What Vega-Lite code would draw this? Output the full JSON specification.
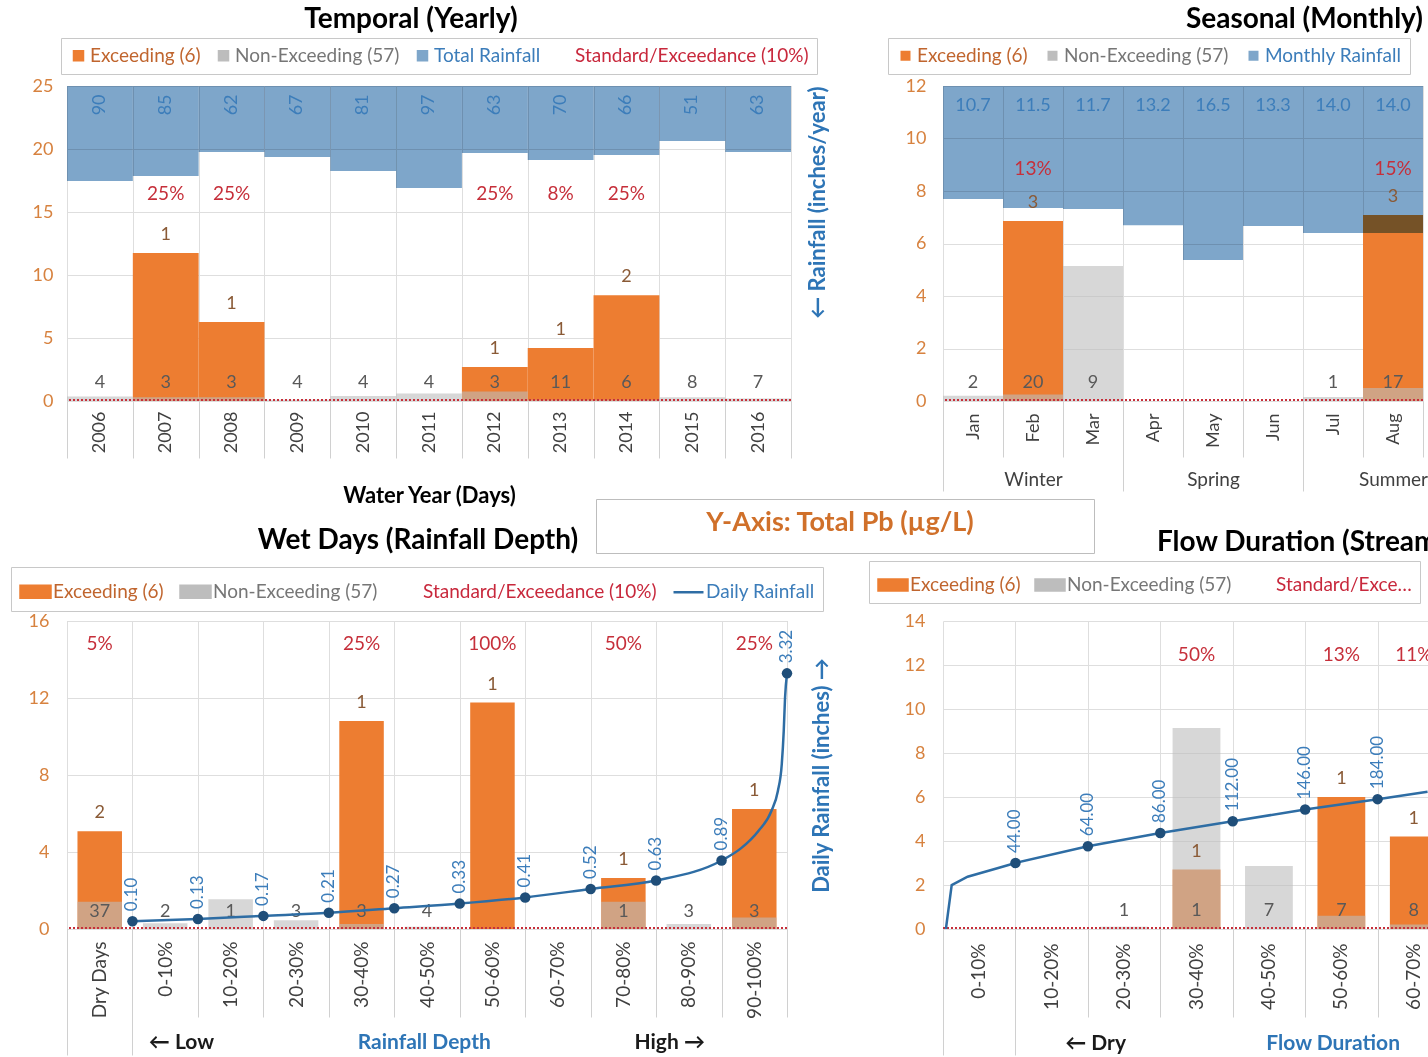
{
  "$schema": "https://vega.github.io/schema/vega-lite/v6.json",
  "padding": {"left": 10, "top": 5, "right": 0, "bottom": 0},
  "background": "white",
  "config": {
    "font": "Lato",
    "view": {"stroke": "#c8c8c8"},
    "axis": {"labelFont": "Lato", "titleFont": "Lato", "gridColor": "#dedede", "labelFontSize": 18},
    "legend": {"labelFont": "Lato", "titleFont": "Lato", "labelFontSize": 19, "labelLimit": 320},
    "title": {"font": "Lato", "fontSize": 28, "fontWeight": "bold", "color": "#000000", "frame": "group"},
    "text": {"font": "Lato"}
  },
  "bounds": "flush",
  "columns": 2,
  "spacing": {"row": 220, "column": 152},
  "resolve": {"scale": {"color": "independent", "fill": "independent", "x": "independent", "y": "independent"}},
  "concat": [
    {
      "width": 724,
      "height": 315,
      "title": {"text": "Temporal (Yearly)", "anchor": "middle", "dx": -18, "offset": 4},
      "resolve": {"scale": {"y": "independent"}},
      "layer": [
        {
          "data": {"values": [
            {"yr": "2006", "non": 0.35, "rb": 17.46, "days": 90, "nn": 4},
            {"yr": "2007", "exc": 11.75, "non": 0.3, "rb": 17.86, "days": 85, "nn": 3, "ne": 1, "pct": "25%"},
            {"yr": "2008", "exc": 6.27, "non": 0.3, "rb": 19.76, "days": 62, "nn": 3, "ne": 1, "pct": "25%"},
            {"yr": "2009", "non": 0.1, "rb": 19.37, "days": 67, "nn": 4},
            {"yr": "2010", "non": 0.4, "rb": 18.25, "days": 81, "nn": 4},
            {"yr": "2011", "non": 0.6, "rb": 16.9, "days": 97, "nn": 4},
            {"yr": "2012", "exc": 2.7, "non": 0.75, "rb": 19.68, "days": 63, "nn": 3, "ne": 1, "pct": "25%"},
            {"yr": "2013", "exc": 4.2, "non": 0.1, "rb": 19.13, "days": 70, "nn": 11, "ne": 1, "pct": "8%"},
            {"yr": "2014", "exc": 8.4, "non": 0.1, "rb": 19.52, "days": 66, "nn": 6, "ne": 2, "pct": "25%"},
            {"yr": "2015", "non": 0.3, "rb": 20.63, "days": 51, "nn": 8},
            {"yr": "2016", "non": 0.2, "rb": 19.76, "days": 63, "nn": 7}
          ]},
          "layer": [
            {
              "mark": {"type": "bar"},
              "encoding": {
                "x": {"field": "yr", "type": "nominal", "sort": null,
                  "scale": {"domain": ["2006","2007","2008","2009","2010","2011","2012","2013","2014","2015","2016"], "paddingInner": 0, "paddingOuter": 0},
                  "axis": {"title": "Water Year (Days)", "titleFontSize": 22, "titleFontWeight": "bold", "titleColor": "#000000", "titlePadding": 27,
                    "labelAngle": 270, "labelFontSize": 18, "labelColor": "#404040", "labelPadding": -47,
                    "tickBand": "extent", "tickSize": 57, "tickColor": "#d0d0d0", "grid": true, "gridColor": "#dedede", "domain": false}},
                "y": {"field": "exc", "type": "quantitative", "scale": {"domain": [0, 25], "nice": false},
                  "axis": {"title": null, "values": [0, 5, 10, 15, 20, 25], "labelColor": "#D7823F", "labelFontSize": 18, "labelPadding": 14, "ticks": false, "domain": false, "grid": true, "gridColor": "#dedede"}},
                "color": {"datum": "Exceeding (6)",
                  "scale": {"domain": ["Exceeding (6)", "Non-Exceeding (57)", "Total Rainfall", "Standard/Exceedance (10%)"], "range": ["#ED7D31", "#BDBDBD", "#7EA6CA", "#C62F3A"]},
                  "legend": {"orient": "none", "legendX": -6, "legendY": -48, "direction": "horizontal", "title": null,
                    "symbolType": "square", "symbolSize": 100, "labelFontSize": 19, "columnPadding": 13, "labelOffset": 2,
                    "padding": 8, "strokeColor": "#c8c8c8", "fillColor": "white",
                    "encode": {
                      "symbols": {"update": {
                        "size": {"signal": "datum.value === 'Standard/Exceedance (10%)' ? 0 : 100"}}},
                      "labels": {"update": {
                        "fill": {"signal": "datum.value === 'Exceeding (6)' ? '#C0652E' : datum.value === 'Non-Exceeding (57)' ? '#767676' : datum.value === 'Total Rainfall' ? '#3C7DBA' : '#C8283C'"}}}
                    }}}
              }
            },
            {
              "mark": {"type": "bar", "opacity": 0.6},
              "encoding": {
                "x": {"field": "yr", "type": "nominal", "sort": null},
                "y": {"field": "non", "type": "quantitative"},
                "color": {"datum": "Non-Exceeding (57)"}
              }
            },
            {
              "mark": {"type": "rule", "strokeDash": [2, 2], "strokeWidth": 1.5},
              "encoding": {"y": {"datum": 0.05}, "color": {"datum": "Standard/Exceedance (10%)"}}
            },
            {
              "mark": {"type": "bar", "blend": "multiply"},
              "encoding": {
                "x": {"field": "yr", "type": "nominal", "sort": null},
                "y": {"field": "rb", "type": "quantitative"},
                "y2": {"datum": 25},
                "color": {"datum": "Total Rainfall"}
              }
            },
            {
              "mark": {"type": "text", "angle": 270, "fontSize": 18, "color": "#3C7DBA", "baseline": "middle", "align": "center"},
              "encoding": {
                "x": {"field": "yr", "type": "nominal", "sort": null},
                "y": {"datum": 23.5},
                "text": {"field": "days"}
              }
            },
            {
              "transform": [{"filter": "datum.pct != null"}],
              "mark": {"type": "text", "fontSize": 19, "color": "#C62F3A", "baseline": "middle"},
              "encoding": {
                "x": {"field": "yr", "type": "nominal", "sort": null},
                "y": {"datum": 16.4},
                "text": {"field": "pct"}
              }
            },
            {
              "transform": [{"filter": "datum.ne != null"}],
              "mark": {"type": "text", "fontSize": 18, "color": "#8A5A36", "baseline": "middle", "dy": -18},
              "encoding": {
                "x": {"field": "yr", "type": "nominal", "sort": null},
                "y": {"field": "exc", "type": "quantitative"},
                "text": {"field": "ne"}
              }
            },
            {
              "transform": [{"filter": "datum.nn != null"}],
              "mark": {"type": "text", "fontSize": 18, "color": "#595959", "baseline": "middle"},
              "encoding": {
                "x": {"field": "yr", "type": "nominal", "sort": null},
                "y": {"datum": 1.43},
                "text": {"field": "nn"}
              }
            }
          ]
        },
        {
          "data": {"values": [{}]},
          "mark": {"type": "rule", "opacity": 0},
          "encoding": {
            "y": {"datum": 0, "type": "quantitative", "scale": {"domain": [0, 25], "nice": false},
              "axis": {"orient": "right", "title": "← Rainfall (inches/year)", "titleAngle": 270, "titleFontSize": 22, "titleFontWeight": "bold", "titleColor": "#2E75B6", "titleAnchor": "end", "titlePadding": 38, "labels": false, "ticks": false, "domain": false, "grid": false}}
          }
        },
        {
          "data": {"values": [{"v": 1}]},
          "mark": {"type": "point", "opacity": 0, "filled": true},
          "encoding": {
            "fill": {"field": "v", "type": "quantitative", "scale": {"domain": [0, 1], "range": ["#ffffff", "#ffffff"]},
              "legend": {"type": "gradient", "orient": "none", "legendX": 529, "legendY": 413, "direction": "horizontal",
                "gradientLength": 476, "gradientThickness": 1, "gradientOpacity": 0, "gradientStrokeWidth": 0,
                "labelOpacity": 0, "labelFontSize": 1, "labelOffset": 0,
                "title": "Y-Axis: Total Pb (µg/L)", "titleFontSize": 27, "titleFontWeight": "bold", "titleColor": "#D0702A",
                "titleAnchor": "middle", "titlePadding": 3, "titleLimit": 600,
                "padding": 11, "strokeColor": "#bdbdbd", "fillColor": "white"}}
          }
        }
      ]
    },
    {
      "width": 480,
      "height": 315,
      "title": {"text": "Seasonal (Monthly)", "anchor": "end", "offset": 4},
      "resolve": {"scale": {"x": "independent"}},
      "layer": [
        {
          "data": {"values": [
            {"mo": "Jan", "non": 0.2, "rb": 7.7, "lbl": 10.7, "nn": 2},
            {"mo": "Feb", "exc": 6.86, "non": 0.25, "rb": 7.35, "lbl": 11.5, "nn": 20, "ne": 3, "pct": "13%"},
            {"mo": "Mar", "non": 5.14, "rb": 7.31, "lbl": 11.7, "nn": 9},
            {"mo": "Apr", "rb": 6.7, "lbl": 13.2},
            {"mo": "May", "rb": 5.37, "lbl": 16.5},
            {"mo": "Jun", "rb": 6.67, "lbl": 13.3},
            {"mo": "Jul", "non": 0.15, "rb": 6.4, "lbl": 14.0, "nn": 1},
            {"mo": "Aug", "exc": 7.09, "non": 0.5, "rb": 6.4, "lbl": 14.0, "nn": 17, "ne": 3, "pct": "15%"}
          ]},
          "layer": [
            {
              "mark": {"type": "bar"},
              "encoding": {
                "x": {"field": "mo", "type": "nominal", "sort": null,
                  "scale": {"domain": ["Jan","Feb","Mar","Apr","May","Jun","Jul","Aug"], "paddingInner": 0, "paddingOuter": 0},
                  "axis": {"title": null, "labelAngle": 270, "labelFontSize": 18, "labelColor": "#404040", "labelPadding": -44,
                    "tickBand": "extent", "tickSize": 56, "tickColor": "#d0d0d0", "grid": true, "gridColor": "#dedede", "domain": false}},
                "y": {"field": "exc", "type": "quantitative", "scale": {"domain": [0, 12], "nice": false},
                  "axis": {"title": null, "values": [0, 2, 4, 6, 8, 10, 12], "labelColor": "#D7823F", "labelFontSize": 18, "labelPadding": 17, "ticks": false, "domain": false, "grid": true, "gridColor": "#dedede"}},
                "color": {"datum": "Exceeding (6)",
                  "scale": {"domain": ["Exceeding (6)", "Non-Exceeding (57)", "Monthly Rainfall"], "range": ["#ED7D31", "#BDBDBD", "#7EA6CA"]},
                  "legend": {"orient": "none", "legendX": -55, "legendY": -48, "direction": "horizontal", "title": null,
                    "symbolType": "square", "symbolSize": 100, "labelFontSize": 19, "columnPadding": 15, "labelOffset": 2,
                    "padding": 8, "strokeColor": "#c8c8c8", "fillColor": "white",
                    "encode": {
                      "labels": {"update": {
                        "fill": {"signal": "datum.value === 'Exceeding (6)' ? '#C0652E' : datum.value === 'Non-Exceeding (57)' ? '#767676' : '#3C7DBA'"}}}
                    }}}
              }
            },
            {
              "mark": {"type": "bar", "opacity": 0.6},
              "encoding": {
                "x": {"field": "mo", "type": "nominal", "sort": null},
                "y": {"field": "non", "type": "quantitative"},
                "color": {"datum": "Non-Exceeding (57)"}
              }
            },
            {
              "mark": {"type": "rule", "strokeDash": [2, 2], "strokeWidth": 1.5, "color": "#C62F3A"},
              "encoding": {"y": {"datum": 0.03}}
            },
            {
              "mark": {"type": "bar", "blend": "multiply"},
              "encoding": {
                "x": {"field": "mo", "type": "nominal", "sort": null},
                "y": {"field": "rb", "type": "quantitative"},
                "y2": {"datum": 12},
                "color": {"datum": "Monthly Rainfall"}
              }
            },
            {
              "mark": {"type": "text", "fontSize": 18, "color": "#3C7DBA", "baseline": "middle"},
              "encoding": {
                "x": {"field": "mo", "type": "nominal", "sort": null},
                "y": {"datum": 11.24},
                "text": {"field": "lbl", "format": ".1f"}
              }
            },
            {
              "transform": [{"filter": "datum.pct != null"}],
              "mark": {"type": "text", "fontSize": 19, "color": "#C62F3A", "baseline": "middle"},
              "encoding": {
                "x": {"field": "mo", "type": "nominal", "sort": null},
                "y": {"datum": 8.84},
                "text": {"field": "pct"}
              }
            },
            {
              "transform": [{"filter": "datum.ne != null"}],
              "mark": {"type": "text", "fontSize": 18, "color": "#8A5A36", "baseline": "middle", "dy": -18},
              "encoding": {
                "x": {"field": "mo", "type": "nominal", "sort": null},
                "y": {"field": "exc", "type": "quantitative"},
                "text": {"field": "ne"}
              }
            },
            {
              "transform": [{"filter": "datum.nn != null"}],
              "mark": {"type": "text", "fontSize": 18, "color": "#595959", "baseline": "middle"},
              "encoding": {
                "x": {"field": "mo", "type": "nominal", "sort": null},
                "y": {"datum": 0.69},
                "text": {"field": "nn"}
              }
            }
          ]
        },
        {
          "data": {"values": [{}]},
          "mark": {"type": "rule", "opacity": 0},
          "encoding": {
            "x": {"datum": 0, "type": "quantitative", "scale": {"domain": [0, 8], "nice": false, "zero": false},
              "axis": {"orient": "bottom", "values": [0, 1.5, 3, 4.5, 6, 7.5],
                "labelExpr": "datum.value == 1.5 ? 'Winter' : datum.value == 4.5 ? 'Spring' : datum.value == 7.5 ? 'Summer' : ''",
                "tickOpacity": {"condition": {"test": "datum.value % 3 == 0", "value": 1}, "value": 0},
                "tickSize": 90, "tickColor": "#d0d0d0", "labelPadding": -21, "labelAngle": 0, "labelFontSize": 19, "labelColor": "#404040",
                "labelFlush": false, "labelOverlap": false, "domain": false, "grid": false, "title": null}}
          }
        }
      ]
    },
    {
      "width": 720,
      "height": 308,
      "title": {"text": "Wet Days (Rainfall Depth)", "anchor": "middle", "dx": -9, "offset": 12},
      "resolve": {"scale": {"x": "independent", "y": "independent"}},
      "layer": [
        {
          "data": {"values": [
            {"cat": "Dry Days", "exc": 5.08, "non": 1.42, "ne": 2, "nn": 37, "pct": "5%"},
            {"cat": "0-10%", "non": 0.3, "nn": 2},
            {"cat": "10-20%", "non": 1.54, "nn": 1},
            {"cat": "20-30%", "non": 0.46, "nn": 3},
            {"cat": "30-40%", "exc": 10.8, "non": 0.26, "ne": 1, "nn": 3, "pct": "25%"},
            {"cat": "40-50%", "non": 0.12, "nn": 4},
            {"cat": "50-60%", "exc": 11.76, "ne": 1, "pct": "100%"},
            {"cat": "60-70%"},
            {"cat": "70-80%", "exc": 2.65, "non": 1.42, "ne": 1, "nn": 1, "pct": "50%"},
            {"cat": "80-90%", "non": 0.26, "nn": 3},
            {"cat": "90-100%", "exc": 6.24, "non": 0.6, "ne": 1, "nn": 3, "pct": "25%"}
          ]},
          "layer": [
            {
              "mark": {"type": "bar", "width": {"band": 0.68}},
              "encoding": {
                "x": {"field": "cat", "type": "nominal", "sort": null,
                  "scale": {"domain": ["Dry Days","0-10%","10-20%","20-30%","30-40%","40-50%","50-60%","60-70%","70-80%","80-90%","90-100%"], "paddingInner": 0, "paddingOuter": 0},
                  "axis": {"title": null, "labelAngle": 270, "labelFontSize": 19, "labelColor": "#404040", "labelPadding": -76,
                    "tickBand": "extent", "tickSize": 88, "tickColor": "#d0d0d0", "grid": true, "gridColor": "#dedede", "domain": false}},
                "y": {"field": "exc", "type": "quantitative", "scale": {"domain": [0, 16], "nice": false},
                  "axis": {"title": null, "values": [0, 2, 4, 6, 8, 10, 12, 14, 16], "labelColor": "#D7823F", "labelFontSize": 18, "labelPadding": 18, "ticks": false, "domain": false, "grid": true, "gridColor": "#dedede"}},
                "color": {"datum": "Exceeding (6)",
                  "scale": {"domain": ["Exceeding (6)", "Non-Exceeding (57)", "Standard/Exceedance (10%)", "Daily Rainfall"], "range": ["#ED7D31", "#BDBDBD", "#C62F3A", "#2E6DA4"]},
                  "legend": {"orient": "none", "legendX": -56, "legendY": -54, "direction": "horizontal", "title": null,
                    "symbolType": "M-1,-0.4H1V0.4H-1Z", "symbolSize": 900, "labelFontSize": 19, "columnPadding": 11, "labelOffset": 1,
                    "padding": 8, "strokeColor": "#c8c8c8", "fillColor": "white",
                    "encode": {
                      "symbols": {"update": {
                        "stroke": {"signal": "datum.value === 'Daily Rainfall' ? '#2E6DA4' : 'transparent'"},
                        "strokeWidth": {"value": 2.5},
                        "shape": {"signal": "datum.value === 'Daily Rainfall' ? 'stroke' : 'M-1,-0.4H1V0.4H-1Z'"},
                        "size": {"signal": "datum.value === 'Standard/Exceedance (10%)' ? 0 : 900"}}},
                      "labels": {"update": {
                        "fill": {"signal": "datum.value === 'Exceeding (6)' ? '#C0652E' : datum.value === 'Non-Exceeding (57)' ? '#767676' : datum.value === 'Daily Rainfall' ? '#3C7DBA' : '#C8283C'"}}}
                    }}}
              }
            },
            {
              "mark": {"type": "bar", "width": {"band": 0.68}, "opacity": 0.6},
              "encoding": {
                "x": {"field": "cat", "type": "nominal", "sort": null},
                "y": {"field": "non", "type": "quantitative"},
                "color": {"datum": "Non-Exceeding (57)"}
              }
            },
            {
              "mark": {"type": "rule", "strokeDash": [2, 2], "strokeWidth": 1.5},
              "encoding": {"y": {"datum": 0.04}, "color": {"datum": "Standard/Exceedance (10%)"}}
            },
            {
              "transform": [{"filter": "datum.pct != null"}],
              "mark": {"type": "text", "fontSize": 19, "color": "#C62F3A", "baseline": "middle"},
              "encoding": {
                "x": {"field": "cat", "type": "nominal", "sort": null},
                "y": {"datum": 14.8},
                "text": {"field": "pct"}
              }
            },
            {
              "transform": [{"filter": "datum.ne != null"}],
              "mark": {"type": "text", "fontSize": 18, "color": "#8A5A36", "baseline": "middle", "dy": -18},
              "encoding": {
                "x": {"field": "cat", "type": "nominal", "sort": null},
                "y": {"field": "exc", "type": "quantitative"},
                "text": {"field": "ne"}
              }
            },
            {
              "transform": [{"filter": "datum.nn != null"}],
              "mark": {"type": "text", "fontSize": 18, "color": "#595959", "baseline": "middle"},
              "encoding": {
                "x": {"field": "cat", "type": "nominal", "sort": null},
                "y": {"datum": 0.88},
                "text": {"field": "nn"}
              }
            }
          ]
        },
        {
          "data": {"values": [
            {"p": 0, "v": 0.10, "pt": 1}, {"p": 10, "v": 0.13, "pt": 1}, {"p": 20, "v": 0.17, "pt": 1},
            {"p": 30, "v": 0.21, "pt": 1}, {"p": 40, "v": 0.27, "pt": 1}, {"p": 50, "v": 0.33, "pt": 1},
            {"p": 60, "v": 0.41, "pt": 1}, {"p": 70, "v": 0.52, "pt": 1}, {"p": 80, "v": 0.63, "pt": 1},
            {"p": 90, "v": 0.89, "pt": 1}, {"p": 93, "v": 1.05, "pt": 0}, {"p": 95.6, "v": 1.27, "pt": 0},
            {"p": 97.6, "v": 1.53, "pt": 0}, {"p": 98.6, "v": 1.79, "pt": 0}, {"p": 99.2, "v": 2.14, "pt": 0},
            {"p": 99.5, "v": 2.57, "pt": 0}, {"p": 99.7, "v": 3.0, "pt": 0}, {"p": 100, "v": 3.32, "pt": 1}
          ]},
          "layer": [
            {
              "mark": {"type": "line", "interpolate": "monotone", "strokeWidth": 2.5},
              "encoding": {
                "x": {"field": "p", "type": "quantitative", "scale": {"domain": [-10, 100], "nice": false, "zero": false},
                  "axis": {"orient": "bottom", "values": [-10, 0, 7.4, 44.5, 82],
                    "labelExpr": "datum.value == 7.4 ? '← Low' : datum.value == 44.5 ? 'Rainfall Depth' : datum.value == 82 ? 'High →' : ''",
                    "tickOpacity": {"condition": {"test": "datum.value <= 0", "value": 1}, "value": 0},
                    "tickSize": 126, "tickColor": "#d0d0d0", "labelPadding": -24, "labelAngle": 0, "labelFontSize": 21, "labelFontWeight": "bold",
                    "labelColor": {"condition": {"test": "datum.value == 44.5", "value": "#2E75B6"}, "value": "#1a1a1a"},
                    "labelFlush": false, "labelOverlap": false, "domain": false, "grid": false, "title": null}},
                "y": {"field": "v", "type": "quantitative", "scale": {"domain": [0, 4], "nice": false},
                  "axis": {"orient": "right", "title": "Daily Rainfall (inches) →", "titleAngle": 270, "titleFontSize": 22, "titleFontWeight": "bold", "titleColor": "#2E75B6", "titlePadding": 46, "labels": false, "ticks": false, "domain": false, "grid": false}},
                "color": {"datum": "Daily Rainfall"}
              }
            },
            {
              "transform": [{"filter": "datum.pt == 1"}],
              "mark": {"type": "circle", "size": 110, "color": "#1F4E79", "opacity": 1},
              "encoding": {
                "x": {"field": "p", "type": "quantitative"},
                "y": {"field": "v", "type": "quantitative"}
              }
            },
            {
              "transform": [{"filter": "datum.pt == 1"}],
              "mark": {"type": "text", "angle": 270, "align": "left", "baseline": "middle", "dx": 10, "fontSize": 17, "color": "#3C7DBA"},
              "encoding": {
                "x": {"field": "p", "type": "quantitative"},
                "y": {"field": "v", "type": "quantitative"},
                "text": {"field": "v", "format": ".2f"}
              }
            }
          ]
        }
      ]
    },
    {
      "width": 486,
      "height": 308,
      "view": {"stroke": null},
      "title": {"text": "Flow Duration (Stream", "anchor": "start", "dx": 214, "offset": 4},
      "resolve": {"scale": {"x": "independent", "y": "independent"}},
      "layer": [
        {
          "data": {"values": [
            {"cat": "0-10%"},
            {"cat": "10-20%"},
            {"cat": "20-30%", "non": 0.1, "nn": 1},
            {"cat": "30-40%", "exc": 2.7, "non": 9.14, "ne": 1, "nn": 1, "pct": "50%"},
            {"cat": "40-50%", "non": 2.86, "nn": 7},
            {"cat": "50-60%", "exc": 6.0, "non": 0.6, "ne": 1, "nn": 7, "pct": "13%"},
            {"cat": "60-70%", "exc": 4.2, "non": 0.2, "ne": 1, "nn": 8, "pct": "11%"}
          ]},
          "layer": [
            {
              "mark": {"type": "bar", "width": {"band": 0.66}, "clip": true},
              "encoding": {
                "x": {"field": "cat", "type": "nominal", "sort": null,
                  "scale": {"domain": ["0-10%","10-20%","20-30%","30-40%","40-50%","50-60%","60-70%"], "range": [0, 507], "paddingInner": 0, "paddingOuter": 0},
                  "axis": {"title": null, "labelAngle": 270, "labelFontSize": 19, "labelColor": "#404040", "labelPadding": 14, "ticks": false, "grid": false, "domain": false}},
                "y": {"field": "exc", "type": "quantitative", "scale": {"domain": [0, 14], "nice": false},
                  "axis": {"title": null, "values": [0, 2, 4, 6, 8, 10, 12, 14], "labelColor": "#D7823F", "labelFontSize": 18, "labelPadding": 18, "ticks": false, "domain": false, "grid": true, "gridColor": "#dedede"}},
                "color": {"datum": "Exceeding (6)",
                  "scale": {"domain": ["Exceeding (6)", "Non-Exceeding (57)", "Standard/Exceedance (10%)"], "range": ["#ED7D31", "#BDBDBD", "#C62F3A"]},
                  "legend": {"orient": "none", "legendX": -74, "legendY": -60, "direction": "horizontal", "title": null,
                    "symbolType": "M-1,-0.4H1V0.4H-1Z", "symbolSize": 900, "labelFontSize": 19, "columnPadding": 11, "labelOffset": 1,
                    "padding": 8, "strokeColor": "#c8c8c8", "fillColor": "white",
                    "encode": {
                      "symbols": {"update": {
                        "size": {"signal": "datum.value === 'Standard/Exceedance (10%)' ? 0 : 900"}}},
                      "labels": {"update": {
                        "fill": {"signal": "datum.value === 'Exceeding (6)' ? '#C0652E' : datum.value === 'Non-Exceeding (57)' ? '#767676' : '#C8283C'"},
                        "limit": {"signal": "datum.value === 'Standard/Exceedance (10%)' ? 140 : 300"}}}
                    }}}
              }
            },
            {
              "mark": {"type": "bar", "width": {"band": 0.66}, "opacity": 0.6, "clip": true},
              "encoding": {
                "x": {"field": "cat", "type": "nominal", "sort": null},
                "y": {"field": "non", "type": "quantitative"},
                "color": {"datum": "Non-Exceeding (57)"}
              }
            },
            {
              "mark": {"type": "rule", "strokeDash": [2, 2], "strokeWidth": 1.5},
              "encoding": {"y": {"datum": 0.035}, "color": {"datum": "Standard/Exceedance (10%)"}}
            },
            {
              "transform": [{"filter": "datum.pct != null"}],
              "mark": {"type": "text", "fontSize": 19, "color": "#C62F3A", "baseline": "middle", "clip": true},
              "encoding": {
                "x": {"field": "cat", "type": "nominal", "sort": null},
                "y": {"datum": 12.45},
                "text": {"field": "pct"}
              }
            },
            {
              "transform": [{"filter": "datum.ne != null"}],
              "mark": {"type": "text", "fontSize": 18, "color": "#8A5A36", "baseline": "middle", "dy": -18, "clip": true},
              "encoding": {
                "x": {"field": "cat", "type": "nominal", "sort": null},
                "y": {"field": "exc", "type": "quantitative"},
                "text": {"field": "ne"}
              }
            },
            {
              "transform": [{"filter": "datum.nn != null"}],
              "mark": {"type": "text", "fontSize": 18, "color": "#595959", "baseline": "middle", "clip": true},
              "encoding": {
                "x": {"field": "cat", "type": "nominal", "sort": null},
                "y": {"datum": 0.82},
                "text": {"field": "nn"}
              }
            }
          ]
        },
        {
          "data": {"values": [
            {"p": 0.4, "v": 10, "pt": 0}, {"p": 1.2, "v": 26.8, "pt": 0}, {"p": 3.4, "v": 32.3, "pt": 0},
            {"p": 7.5, "v": 39, "pt": 0}, {"p": 10, "v": 44, "pt": 1}, {"p": 20, "v": 64, "pt": 1},
            {"p": 30, "v": 86, "pt": 1}, {"p": 40, "v": 112, "pt": 1}, {"p": 50, "v": 146, "pt": 1},
            {"p": 60, "v": 184, "pt": 1}, {"p": 66.9, "v": 217, "pt": 0}
          ]},
          "layer": [
            {
              "mark": {"type": "line", "strokeWidth": 2.5, "color": "#2E6DA4", "clip": true},
              "encoding": {
                "x": {"field": "p", "type": "quantitative", "scale": {"domain": [0, 70], "range": [0, 507], "nice": false, "zero": false},
                  "axis": {"orient": "bottom", "values": [0, 10, 20, 30, 40, 50, 60], "labels": false, "ticks": true, "tickSize": 88, "tickColor": "#d0d0d0", "grid": true, "gridColor": "#dedede", "domain": false, "title": null}},
                "y": {"field": "v", "type": "quantitative", "scale": {"type": "log", "domain": [10, 10000], "nice": false}, "axis": null}
              }
            },
            {
              "transform": [{"filter": "datum.pt == 1"}],
              "mark": {"type": "circle", "size": 110, "color": "#1F4E79", "opacity": 1, "clip": true},
              "encoding": {
                "x": {"field": "p", "type": "quantitative"},
                "y": {"field": "v", "type": "quantitative"}
              }
            },
            {
              "transform": [{"filter": "datum.pt == 1"}],
              "mark": {"type": "text", "angle": 270, "align": "left", "baseline": "middle", "dx": 10, "fontSize": 17, "color": "#3C7DBA", "clip": true},
              "encoding": {
                "x": {"field": "p", "type": "quantitative"},
                "y": {"field": "v", "type": "quantitative"},
                "text": {"field": "v", "format": ".2f"}
              }
            }
          ]
        },
        {
          "data": {"values": [{}]},
          "mark": {"type": "rule", "opacity": 0},
          "encoding": {
            "x": {"datum": 0, "type": "quantitative", "scale": {"domain": [0, 70], "range": [0, 507], "nice": false, "zero": false},
              "axis": {"orient": "bottom", "values": [0, 10, 21, 53.8],
                "labelExpr": "datum.value == 21 ? '← Dry' : datum.value == 53.8 ? 'Flow Duration' : ''",
                "tickOpacity": {"condition": {"test": "datum.value <= 10", "value": 1}, "value": 0},
                "tickSize": 126, "tickColor": "#d0d0d0", "labelPadding": -23, "labelAngle": 0, "labelFontSize": 21, "labelFontWeight": "bold",
                "labelColor": {"condition": {"test": "datum.value == 53.8", "value": "#2E75B6"}, "value": "#1a1a1a"},
                "labelFlush": false, "labelOverlap": false, "domain": false, "grid": false, "title": null}}
          }
        }
      ]
    }
  ]
}
